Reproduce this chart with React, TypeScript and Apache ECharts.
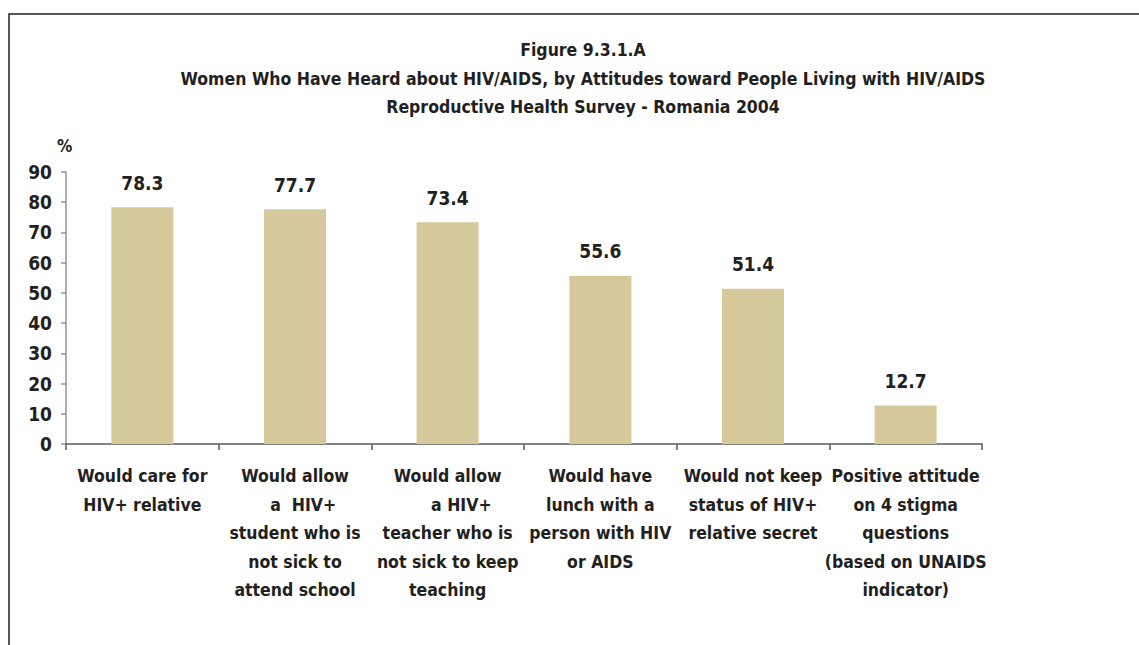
import React, { useEffect, useRef } from "react";
import * as echarts from "echarts";

const categories = [
  "Would care for\nHIV+ relative",
  "Would allow\n   a  HIV+\nstudent who is\nnot sick to\nattend school",
  "Would allow\n     a HIV+\nteacher who is\nnot sick to keep\nteaching",
  "Would have\nlunch with a\nperson with HIV\nor AIDS",
  "Would not keep\nstatus of HIV+\nrelative secret",
  "Positive attitude\non 4 stigma\nquestions\n(based on UNAIDS\nindicator)",
];
const values = [78.3, 77.7, 73.4, 55.6, 51.4, 12.7];
const titleLines = [
  "Figure 9.3.1.A",
  "Women Who Have Heard about HIV/AIDS, by Attitudes toward People Living with HIV/AIDS",
  "Reproductive Health Survey - Romania 2004",
];
const yTicks = { min: 0, max: 90, interval: 10 };

const FONT = "'DejaVu Sans Condensed', 'Liberation Sans Narrow', Arial, sans-serif";

export default function App() {
  const ref = useRef<HTMLDivElement>(null);
  useEffect(() => {
    const chart = echarts.init(ref.current!, null, { renderer: "svg" });
    chart.setOption({
      animation: false,
      backgroundColor: "#ffffff",
      textStyle: { fontFamily: FONT },
      title: {
        text: titleLines.join("\n"),
        left: 578,
        top: 31,
        textAlign: "center",
        textStyle: {
          fontFamily: FONT,
          fontSize: 17.5,
          fontWeight: "bold",
          color: "#231f20",
          lineHeight: 28.5,
        },
      },
      graphic: [
        {
          type: "rect",
          shape: { x: 9, y: 14, width: 1300, height: 800 },
          style: { fill: "none", stroke: "#231f20", lineWidth: 1.5 },
          silent: true,
        },
        {
          type: "text",
          x: 57,
          y: 137,
          style: {
            text: "%",
            fontFamily: FONT,
            fontSize: 17,
            fontWeight: "bold",
            fill: "#231f20",
          },
        },
      ],
      grid: { left: 66, right: 157, top: 172, bottom: 201, containLabel: false },
      xAxis: {
        type: "category",
        data: categories,
        boundaryGap: true,
        axisLine: { lineStyle: { color: "#58595b", width: 1.5 } },
        axisTick: { show: true, length: 6, lineStyle: { color: "#58595b", width: 1.5 } },
        axisLabel: {
          interval: 0,
          margin: 18,
          fontFamily: FONT,
          fontSize: 17.5,
          fontWeight: "bold",
          color: "#231f20",
          lineHeight: 28.5,
          align: "center",
        },
      },
      yAxis: {
        type: "value",
        min: yTicks.min,
        max: yTicks.max,
        interval: yTicks.interval,
        splitLine: { show: false },
        axisLine: { show: true, lineStyle: { color: "#939598", width: 1.5 } },
        axisTick: { show: true, length: 5, lineStyle: { color: "#939598", width: 1.5 } },
        axisLabel: {
          margin: 14,
          fontFamily: FONT,
          fontSize: 19,
          fontWeight: "bold",
          color: "#231f20",
        },
      },
      series: [
        {
          type: "bar",
          data: values,
          barWidth: 62,
          itemStyle: { color: "#d5c99b" },
          label: {
            show: true,
            position: "top",
            distance: 15,
            formatter: (p: any) => p.value.toFixed(1),
            fontFamily: FONT,
            fontSize: 19,
            fontWeight: "bold",
            color: "#231f20",
          },
        },
      ],
    });
    return () => chart.dispose();
  }, []);
  return (
    <div
      ref={ref}
      style={{ position: "fixed", left: 0, top: 0, width: 1139, height: 645 }}
    />
  );
}
